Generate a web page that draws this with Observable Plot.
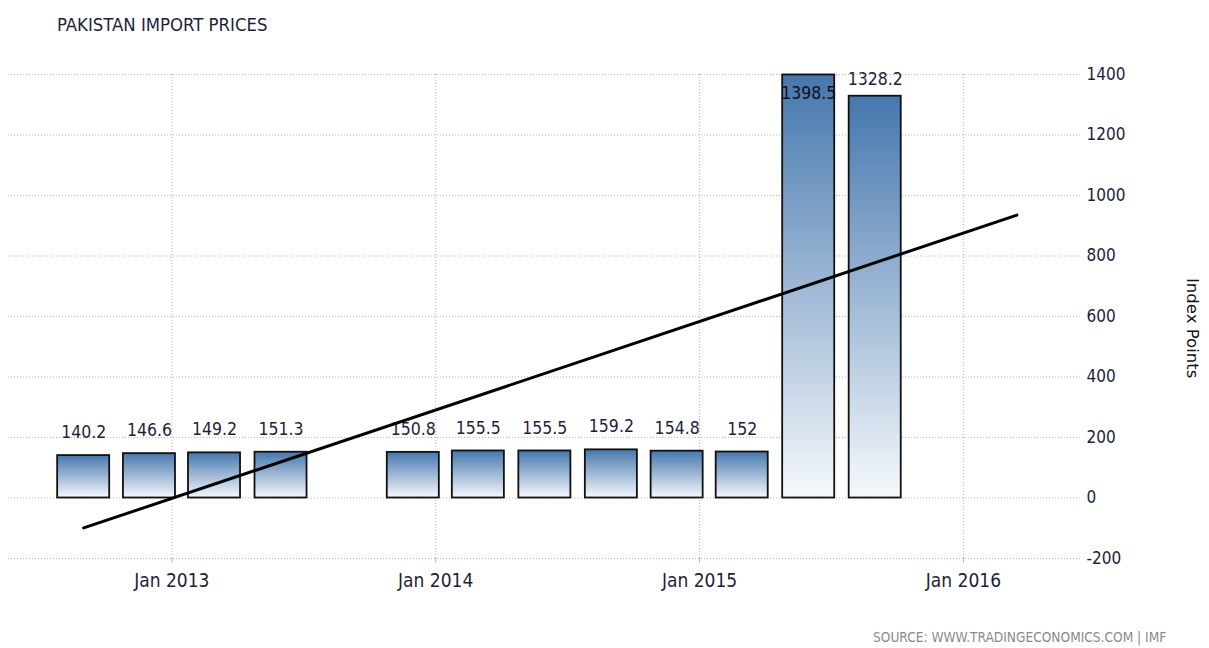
<!DOCTYPE html>
<html><head><meta charset="utf-8">
<script src="https://cdn.jsdelivr.net/npm/d3@7"></script>
<script src="https://cdn.jsdelivr.net/npm/@observablehq/plot@0.6"></script>
<style>
body{margin:0;background:#fff;}
#wrap{position:relative;width:1209px;height:648px;font-family:"DejaVu Sans Condensed","DejaVu Sans",sans-serif;}
#chart{position:absolute;left:0;top:0;}
#title{position:absolute;left:57px;top:14px;font-size:18.4px;color:#1e1e3c;white-space:nowrap;}
#source{position:absolute;left:873px;top:629px;font-size:13.6px;color:#8a8a8a;white-space:nowrap;}
#ylabel{position:absolute;left:1183px;top:278px;writing-mode:vertical-rl;font-family:"DejaVu Sans",sans-serif;font-size:16.5px;color:#111;white-space:nowrap;}
</style></head><body>
<div id="wrap"><div id="chart"></div><div id="title">PAKISTAN IMPORT PRICES</div><div id="ylabel"></div><div id="source">SOURCE: WWW.TRADINGECONOMICS.COM | IMF</div></div>
<script>
// Data (quarterly, bar positioned on the last month of each quarter)
const dates = ["2012-09-01","2012-12-01","2013-03-01","2013-06-01","2013-12-01","2014-03-01","2014-06-01","2014-09-01","2014-12-01","2015-03-01","2015-06-01","2015-09-01"];
const values = [140.2,146.6,149.2,151.3,150.8,155.5,155.5,159.2,154.8,152,1398.5,1328.2];
const valueLabels = ["140.2","146.6","149.2","151.3","150.8","155.5","155.5","159.2","154.8","152","1398.5","1328.2"];
// Trend line end points
const trendDates = ["2012-09-01","2016-03-15"];
const trendValues = [-99, 935];
// Axis ticks
const yTicks = [-200,0,200,400,600,800,1000,1200,1400];
const xTicks = ["2013-01-01","2014-01-01","2015-01-01","2016-01-01"];
const xDomain = ["2012-05-20","2016-06-11"];
const yDomain = [-200,1400];
const yLabel = "Index Points";

document.getElementById("ylabel").textContent = yLabel;

const data = dates.map((d,i)=>({date:new Date(d), value:values[i], label:valueLabels[i]}));
const trend = trendDates.map((d,i)=>({date:new Date(d), value:trendValues[i]}));
const halfWidth = 36; // days
const gridStyle = {stroke:"#b8b8b8", strokeOpacity:1, strokeDasharray:"1,2"};
const textColor = "#1e1e3c";
const font = "'DejaVu Sans Condensed','DejaVu Sans',sans-serif";

const defs = () => {
  const g = document.createElementNS("http://www.w3.org/2000/svg","g");
  g.innerHTML = `<defs><linearGradient id="barGrad" x1="0" y1="0" x2="0" y2="1">
    <stop offset="0" stop-color="#4577ae"/><stop offset="1" stop-color="#f6f9fc"/></linearGradient></defs>`;
  return g;
};

const chart = Plot.plot({
  width:1209, height:648,
  marginLeft:8, marginRight:129, marginTop:74, marginBottom:90,
  style:{fontFamily:font, color:textColor, background:"transparent"},
  x:{type:"utc", domain:xDomain.map(d=>new Date(d))},
  y:{domain:yDomain},
  marks:[
    defs,
    Plot.gridY(yTicks, gridStyle),
    Plot.gridX(xTicks.map(d=>new Date(d)), gridStyle),
    Plot.axisX(xTicks.map(d=>new Date(d)), {tickSize:5, tickPadding:10, stroke:"#b8b8b8", fontSize:19, fill:textColor, tickFormat:d3.utcFormat("%b %Y"), label:null}),
    Plot.axisY(yTicks, {anchor:"right", tickSize:0, tickPadding:6, fontSize:17, fill:textColor, tickFormat:d=>String(d), label:null}),
    Plot.rectY(data, {x1:d=>d3.utcDay.offset(d.date,-halfWidth), x2:d=>d3.utcDay.offset(d.date,halfWidth), y1:0, y2:"value", fill:"url(#barGrad)", stroke:"#111", strokeWidth:1.8}),
    Plot.text(data.filter(d=>d.value<1300), {x:"date", y:"value", text:"label", dy:-23, fontSize:17.5, fill:textColor}),
    Plot.text(data.filter(d=>d.value>=1300 && d.value<1390), {x:"date", y:"value", text:"label", dy:-17, fontSize:17.5, fill:textColor}),
    Plot.text(data.filter(d=>d.value>=1390), {x:"date", y:"value", text:"label", dy:18, fontSize:17.5, fill:"#111"}),
    Plot.line(trend, {x:"date", y:"value", stroke:"#000", strokeWidth:3})
  ]
});
document.getElementById("chart").appendChild(chart);
</script>
</body></html>
